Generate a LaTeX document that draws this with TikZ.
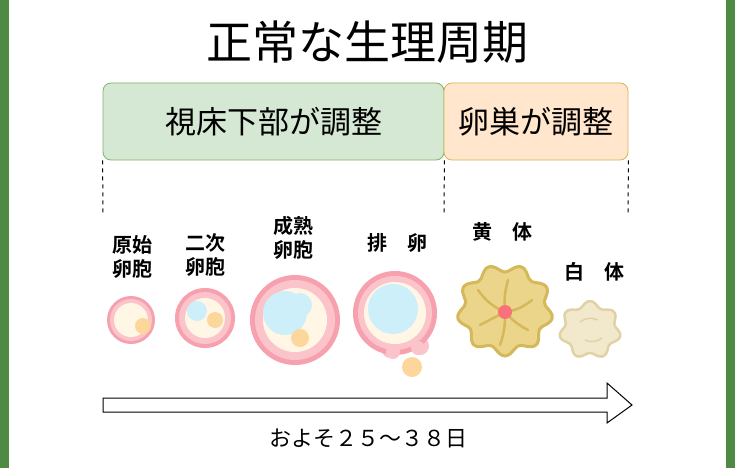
\documentclass[tikz,border=0pt]{standalone}
\usepackage{fontspec}
\newfontfamily\jp{Noto Sans CJK JP}
\newfontfamily\jpb{Noto Sans CJK JP Bold}
\definecolor{frame}{HTML}{4E8A43}
\definecolor{gfill}{HTML}{D5E8D4}
\definecolor{gdraw}{HTML}{82B366}
\definecolor{ofill}{HTML}{FFE6CC}
\definecolor{odraw}{HTML}{D6B656}
\definecolor{pinkR}{HTML}{F7A1AE}
\definecolor{pinkL}{HTML}{FBC3CA}
\definecolor{cream}{HTML}{FFF6E6}
\definecolor{blueC}{HTML}{CDEFFA}
\definecolor{yolk}{HTML}{FCD69A}
\definecolor{lut}{HTML}{EBD58A}
\definecolor{lutD}{HTML}{D4B85A}
\definecolor{alb}{HTML}{F2E8CC}
\definecolor{albD}{HTML}{E0D2A6}
\tikzset{phase/.style={draw, rounded corners=8pt, line width=0.8pt, font=\jp\fontsize{31}{36}\selectfont},
lbl/.style={font=\jpb\fontsize{20}{24}\selectfont, align=center},
guide/.style={dash pattern=on 4pt off 4pt, line width=1pt}}
\begin{document}
\begin{tikzpicture}[x=1pt,y=-1pt]
\useasboundingbox (0,0) rectangle (735,468);
\fill[white] (0,0) rectangle (735,468);
\fill[frame] (0,0) rectangle (9,468);
\fill[frame] (726,0) rectangle (735,468);
\node[font=\jp\fontsize{46}{50}\selectfont] (title) at (367,42) {正常な生理周期};
\node[phase, fill=gfill, draw=gdraw, minimum width=341pt, minimum height=77pt] (hypo) at (273.5,121.5) {視床下部が調整};
\node[phase, fill=ofill, draw=odraw, minimum width=184pt, minimum height=77pt] (ovary) at (536,121.5) {卵巣が調整};
\coordinate (d1) at (103,215); \coordinate (d2) at (444,215); \coordinate (d3) at (628,215);
\draw[guide] (hypo.south west) -- (d1);
\draw[guide] (hypo.south east) -- (d2);
\draw[guide] (ovary.south east) -- (d3);
\node[lbl] (l1) at (132,257) {原始\\卵胞};
\node[lbl] (l2) at (205,255) {二次\\卵胞};
\node[lbl] (l3) at (293,238) {成熟\\卵胞};
\node[lbl] (l4) at (397,243) {排　卵};
\node[lbl] (l5) at (502,232) {黄　体};
\node[lbl] (l6) at (594,272) {白　体};
% cell 1
\fill[pinkR] (131,320) circle (24);
\fill[pinkL] (131,320) circle (21);
\fill[cream] (131,320) circle (17);
\fill[yolk] (143,326) circle (8);
% cell 2
\fill[pinkR] (205,318) circle (30);
\fill[pinkL] (205,318) circle (26);
\fill[cream] (205,318) circle (20);
\fill[blueC] (197,311) circle (10);
\fill[yolk] (215,320) circle (8);
% cell 3
\fill[pinkR] (295,320) circle (45);
\fill[pinkL] (295,320) circle (40);
\fill[cream] (295,320) circle (32);
\fill[blueC] (285,313) circle (22);
\fill[blueC] (300,305) circle (12);
\fill[yolk] (300,338) circle (9);
% cell 4
\fill[pinkL] (390,350) circle (8);
\fill[pinkL] (420,346) circle (9);
\fill[pinkR] (395,313) circle (42);
\fill[pinkL] (395,313) circle (37);
\fill[cream] (395,313) circle (31);
\fill[blueC] (393,309) circle (25);
\fill[pinkL] (393,352) circle (7);
\fill[pinkL] (418,348) circle (7);
\fill[yolk] (412,367) circle (10);
% corpus luteum
\draw[fill=lut, draw=lutD, line width=3pt] plot[smooth cycle, samples=60, domain=0:354] ({505+(44+4*sin(9*\x))*cos(\x)}, {310+(42+4*sin(9*\x))*sin(\x)});
\draw[lutD, line width=2.5pt, line cap=round] (505,312) to[bend left=15] (478,290) (505,312) to[bend right=15] (532,300) (505,312) to[bend left=10] (500,345) (505,312) -- (480,325) (505,312) to[bend right=10] (528,330) (505,312) to[bend left=10] (508,280);
\fill[pinkR!70!red] (505,312) circle (7);
% corpus albicans
\draw[fill=alb, draw=albD, line width=2.5pt] plot[smooth cycle, samples=50, domain=0:352.8] ({590+(28+3*sin(7*\x))*cos(\x)}, {330+(26+3*sin(7*\x))*sin(\x)});
\draw[albD, line width=1.5pt] (580,322) to[bend left] (598,320) (585,340) to[bend right] (602,338);
% arrow
\draw[line width=1pt, fill=white] (103,398) -- (607,398) -- (607,383) -- (632,405) -- (607,423) -- (607,412) -- (103,412) -- cycle;
\node[font=\jp\fontsize{22}{26}\selectfont] (span) at (368,438) {およそ２５～３８日};
\end{tikzpicture}
\end{document}
